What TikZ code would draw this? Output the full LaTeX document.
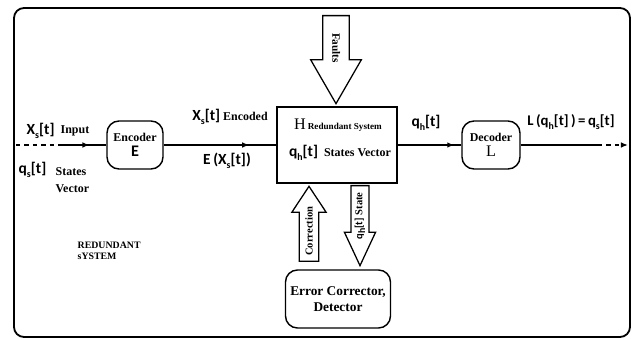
\documentclass[tikz,border=0pt]{standalone}
\usepackage{fontspec}
\setmainfont{Liberation Serif}
\newfontfamily\calib{Carlito}
\usepackage{tikz}
\usetikzlibrary{arrows.meta,shapes.arrows,decorations.markings}

\newcommand{\sbs}[1]{\raisebox{-0.5ex}{\fontsize{7}{7}\selectfont #1}}

\begin{document}
\begin{tikzpicture}[
    x=0.025cm,
    y=-0.025cm,
    >={Latex[length=5pt,width=4pt]},
    font=\bfseries\fontsize{8.5}{10}\selectfont,
    block/.style={draw, line width=1pt, align=center, inner sep=0pt},
    rblock/.style={block, rounded corners=3mm},
    sig/.style={font=\calib\bfseries\fontsize{11}{12}\selectfont, inner sep=1pt},
    lbl/.style={inner sep=1pt, align=left},
    wire/.style={line width=1pt},
    midarrow/.style={postaction={decorate}, decoration={markings, mark=at position #1 with {\arrow{>}}}},
    bigarrow/.style={single arrow, draw, line width=0.9pt, single arrow head indent=0pt, inner xsep=1pt, text height=5.3pt, text depth=0pt, font=\bfseries\fontsize{7.5}{7.5}\selectfont}
]

\useasboundingbox (0,0) rectangle (634,340);

% --- Marco ---
\draw[line width=1.3pt, rounded corners=2.5mm] (14,8) rectangle (630,337);

% --- Bloques ---
\node[rblock, minimum width=1.4cm, minimum height=1.2cm] (enc) at (135,145) {Encoder\\[1pt]{\calib\fontsize{11.5}{12}\selectfont E}};
\node[block, minimum width=3cm, minimum height=1.9cm] (hsys) at (337,145) {};
\node[rblock, minimum width=1.45cm, minimum height=1.2cm] (dec) at (491,145) {Decoder\\[1pt]{\mdseries\fontsize{11.5}{12}\selectfont L}};
\node[rblock, minimum width=2.625cm, minimum height=1.45cm, font=\bfseries\fontsize{9.5}{11}\selectfont] (ecd) at (338,299) {Error Corrector,\\Detector};

% --- Texto del sistema redundante ---
\node[inner sep=0pt] (hname) at (338,125) {{\mdseries\fontsize{11.5}{12}\selectfont H}\,{\fontsize{6.5}{7}\selectfont Redundant System}};
\node[inner sep=0pt] (hstate) at (340,153) {{\calib\fontsize{11}{12}\selectfont q\sbs{h}[t]}~~States Vector};

% --- Etiquetas ---
\node[sig, anchor=west] (xin) at (25,131) {X\sbs{s}[t]};
\node[lbl, anchor=west] (inlbl) at (59,131) {Input};
\node[sig, anchor=west] (qin) at (17,170) {q\sbs{s}[t]};
\node[lbl, anchor=west] (svlbl) at (54,180) {States\\[2pt]Vector};
\node[inner sep=1pt] (enclbl) at (230,117) {{\calib\fontsize{11}{12}\selectfont X\sbs{s}[t]}~Encoded};
\node[sig] (ex) at (227,161) {E\,(X\sbs{s}[t])};
\node[sig] (qh) at (426,123) {q\sbs{h}[t]};
\node[sig, font=\calib\bfseries\fontsize{10.5}{12}\selectfont] (lq) at (571,122) {L\,(q\sbs{h}[t]\,)\,=\,q\sbs{s}[t]};
\node[lbl, anchor=west, font=\bfseries\fontsize{7}{8}\selectfont] (rs) at (76,251) {REDUNDANT\\sYSTEM};

% --- Flechas grandes ---
\node[bigarrow, rotate=-90, anchor=tail, minimum height=2.2cm, font=\bfseries\fontsize{8}{8}\selectfont, inner ysep=6.4pt, single arrow head extend=8.5pt, single arrow tip angle=60] (faults) at (336,15) {Faults};
\node[bigarrow, rotate=90, anchor=tail, minimum height=1.875cm, inner ysep=3.8pt, single arrow head extend=5.3pt, single arrow tip angle=67] (corr) at (309,262) {Correction};
\node[bigarrow, rotate=-90, anchor=tail, minimum height=2cm, text depth=1.5pt, inner ysep=2.6pt, single arrow head extend=4.6pt, single arrow tip angle=50] (state) at (360,185) {\rotatebox[origin=c]{180}{{\calib q\sbs{h}[t]}~State}};

% --- Conexiones ---
\coordinate (inL) at (16,145);
\coordinate (inM) at (62,145);
\coordinate (outM) at (598,145);
\coordinate (outR) at (628,145);

\draw[wire, dashed] (inL) -- (inM);
\draw[wire, midarrow=0.62] (inM) -- (enc);
\draw[wire, midarrow=0.76] (enc) -- (hsys);
\draw[wire, midarrow=0.89] (hsys) -- (dec);
\draw[wire] (dec) -- (outM);
\draw[wire, dashed, ->] (outM) -- (outR);

\end{tikzpicture}
\end{document}
